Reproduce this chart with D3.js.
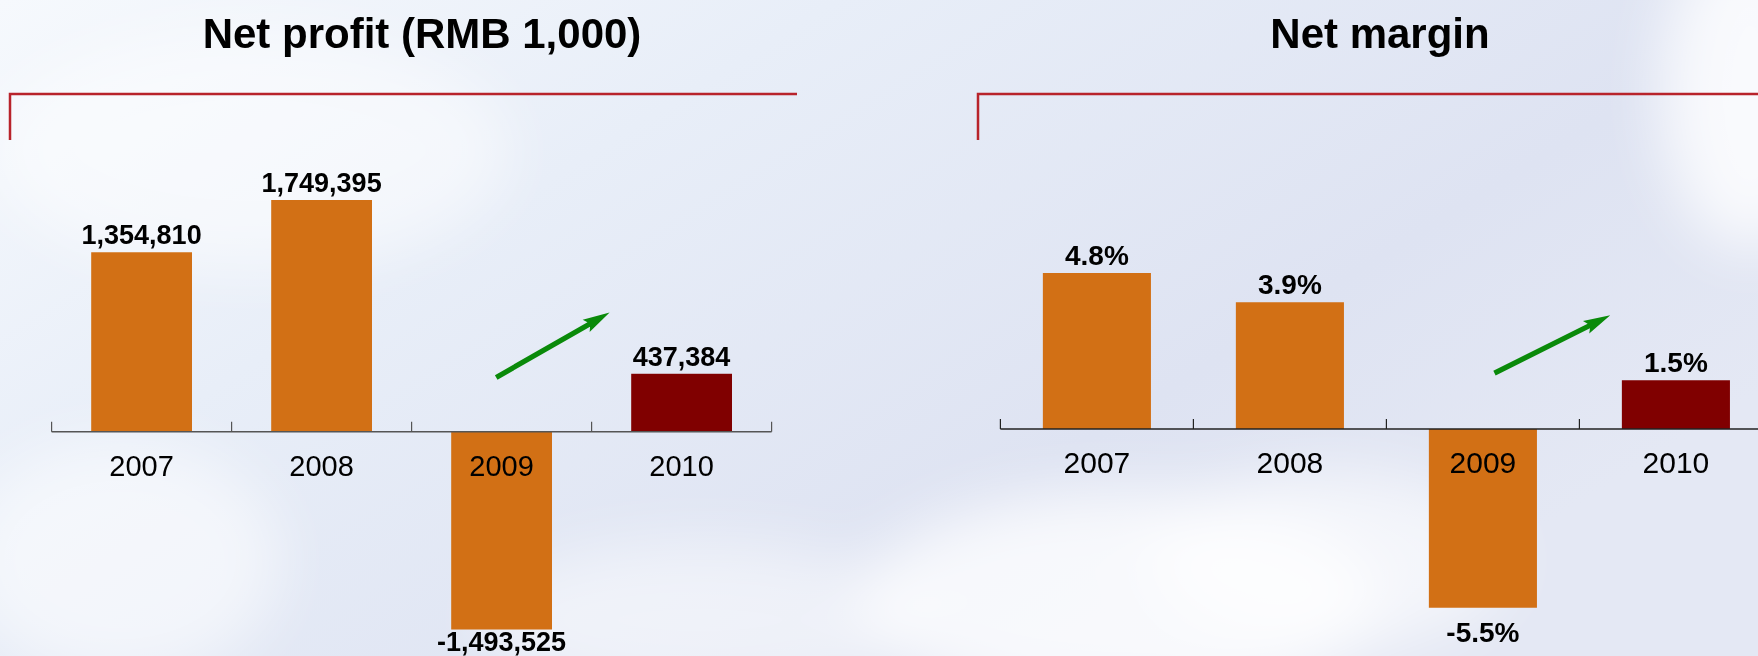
<!DOCTYPE html>
<html>
<head>
<meta charset="utf-8">
<script src="https://cdn.jsdelivr.net/npm/d3@7"></script>
<style>
  html, body { margin: 0; padding: 0; overflow: hidden; }
  svg { display: block; font-family: "Liberation Sans", Arial, sans-serif; }
</style>
</head>
<body>
<div id="visualization"></div>
<script>
let w = 1758;
let h = 656;

// data
let years = ["2007", "2008", "2009", "2010"];
let netProfit = [1354810, 1749395, -1493525, 437384];
let netMargin = [4.8, 3.9, -5.5, 1.5];
let profitLabels = ["1,354,810", "1,749,395", "-1,493,525", "437,384"];
let marginLabels = ["4.8%", "3.9%", "-5.5%", "1.5%"];
let titles = ["Net profit (RMB 1,000)", "Net margin"];

let orange = "#d27015";
let darkRed = "#800000";

let viz = d3.select("#visualization")
  .append("svg")
  .attr("width", w)
  .attr("height", h);

// background sky
let defs = viz.append("defs");
let bg = defs.append("linearGradient").attr("id", "sky")
  .attr("x1", 0).attr("y1", 0).attr("x2", 1).attr("y2", 0.6);
bg.append("stop").attr("offset", "0%").attr("stop-color", "#f6f9fd");
bg.append("stop").attr("offset", "35%").attr("stop-color", "#e8eef8");
bg.append("stop").attr("offset", "75%").attr("stop-color", "#dee3f2");
bg.append("stop").attr("offset", "100%").attr("stop-color", "#e4e8f4");

defs.append("filter").attr("id", "blur")
  .attr("x", "-50%").attr("y", "-50%").attr("width", "200%").attr("height", "200%")
  .append("feGaussianBlur").attr("stdDeviation", 30);

viz.append("rect").attr("width", w).attr("height", h).attr("fill", "url(#sky)");

let clouds = [
  {cx: 1120, cy: 600, rx: 260, ry: 110, o: 0.75},
  {cx: 1330, cy: 560, rx: 180, ry: 90, o: 0.6},
  {cx: 700, cy: 620, rx: 220, ry: 80, o: 0.5},
  {cx: 120, cy: 560, rx: 160, ry: 120, o: 0.55},
  {cx: 1750, cy: 90, rx: 90, ry: 160, o: 0.8},
  {cx: 250, cy: 150, rx: 260, ry: 120, o: 0.5}
];
viz.append("g").attr("filter", "url(#blur)")
  .selectAll("ellipse").data(clouds).enter()
  .append("ellipse")
  .attr("cx", d => d.cx).attr("cy", d => d.cy)
  .attr("rx", d => d.rx).attr("ry", d => d.ry)
  .attr("fill", "#ffffff").attr("opacity", d => d.o);

// chart settings
let charts = [
  {
    title: titles[0], titleX: 422, values: netProfit, labels: profitLabels,
    xRange: [51.6, 771.6], zeroY: 431.7, refValue: 1749395, refY: 200,
    bracketX: 10, bracketEnd: 797, labelSize: 27, catSize: 29, negGap: 21,
    axisColor: "#555", arrow: [[2.47, 410000], [3.1, 900000]]
  },
  {
    title: titles[1], titleX: 1380, values: netMargin, labels: marginLabels,
    xRange: [1000.4, 1772.4], zeroY: 429, refValue: 4.8, refY: 273,
    bracketX: 978, bracketEnd: 1760, labelSize: 28, catSize: 30, negGap: 34,
    axisColor: "#222", arrow: [[2.56, 1.72], [3.16, 3.5]]
  }
];

charts.forEach(function(c){
  let g = viz.append("g");

  let xScale = d3.scaleBand().domain(years).range(c.xRange)
    .paddingInner(0.44).paddingOuter(0.22);
  let yScale = d3.scaleLinear().domain([0, c.refValue]).range([c.zeroY, c.refY]);
  let step = xScale.step();

  // title
  g.append("text")
    .attr("x", c.titleX).attr("y", 48)
    .attr("text-anchor", "middle")
    .attr("font-size", 42).attr("font-weight", "bold")
    .text(c.title);

  // red bracket
  g.append("path")
    .attr("d", "M" + c.bracketX + ",140 V94 H" + c.bracketEnd)
    .attr("fill", "none").attr("stroke", "#b8232b").attr("stroke-width", 2.5);

  // bars
  g.selectAll(".bar").data(c.values).enter()
    .append("rect")
    .attr("class", "bar")
    .attr("x", (d, i) => xScale(years[i]))
    .attr("y", d => Math.min(yScale(d), yScale(0)))
    .attr("width", xScale.bandwidth())
    .attr("height", d => Math.abs(yScale(d) - yScale(0)))
    .attr("fill", (d, i) => i == years.length - 1 ? darkRed : orange);

  // axis line and ticks at band edges
  g.append("line")
    .attr("x1", c.xRange[0]).attr("x2", c.xRange[1])
    .attr("y1", yScale(0)).attr("y2", yScale(0))
    .attr("stroke", c.axisColor).attr("stroke-width", 1.5);
  g.selectAll(".tick").data(d3.range(years.length + 1)).enter()
    .append("line")
    .attr("class", "tick")
    .attr("x1", i => c.xRange[0] + i * step).attr("x2", i => c.xRange[0] + i * step)
    .attr("y1", yScale(0)).attr("y2", yScale(0) - 10)
    .attr("stroke", c.axisColor).attr("stroke-width", 1.2);

  // category labels
  g.selectAll(".cat").data(years).enter()
    .append("text")
    .attr("class", "cat")
    .attr("x", d => xScale(d) + xScale.bandwidth() / 2)
    .attr("y", yScale(0) + 44)
    .attr("text-anchor", "middle")
    .attr("font-size", c.catSize)
    .text(d => d);

  // value labels
  g.selectAll(".val").data(c.values).enter()
    .append("text")
    .attr("class", "val")
    .attr("x", (d, i) => xScale(years[i]) + xScale.bandwidth() / 2)
    .attr("y", d => d >= 0 ? yScale(d) - 8 : yScale(d) + c.negGap)
    .attr("text-anchor", "middle")
    .attr("font-size", c.labelSize).attr("font-weight", "bold")
    .text((d, i) => c.labels[i]);

  // green trend arrow
  let x0 = c.xRange[0] + c.arrow[0][0] * step, y0 = yScale(c.arrow[0][1]);
  let x1 = c.xRange[0] + c.arrow[1][0] * step, y1 = yScale(c.arrow[1][1]);
  let len = Math.hypot(x1 - x0, y1 - y0);
  let ang = Math.atan2(y1 - y0, x1 - x0) * 180 / Math.PI;
  let headL = 24, headW = 7, shaftW = 2.6;
  let arrowPath = "M0," + (-shaftW) + " L" + (len - headL) + "," + (-shaftW) +
    " L" + (len - headL - 3) + "," + (-headW) + " L" + len + ",0" +
    " L" + (len - headL - 3) + "," + headW + " L" + (len - headL) + "," + shaftW +
    " L0," + shaftW + " Z";
  g.append("path")
    .attr("d", arrowPath)
    .attr("transform", "translate(" + x0 + "," + y0 + ") rotate(" + ang + ")")
    .attr("fill", "#0a8a0a");
});
</script>
</body>
</html>
